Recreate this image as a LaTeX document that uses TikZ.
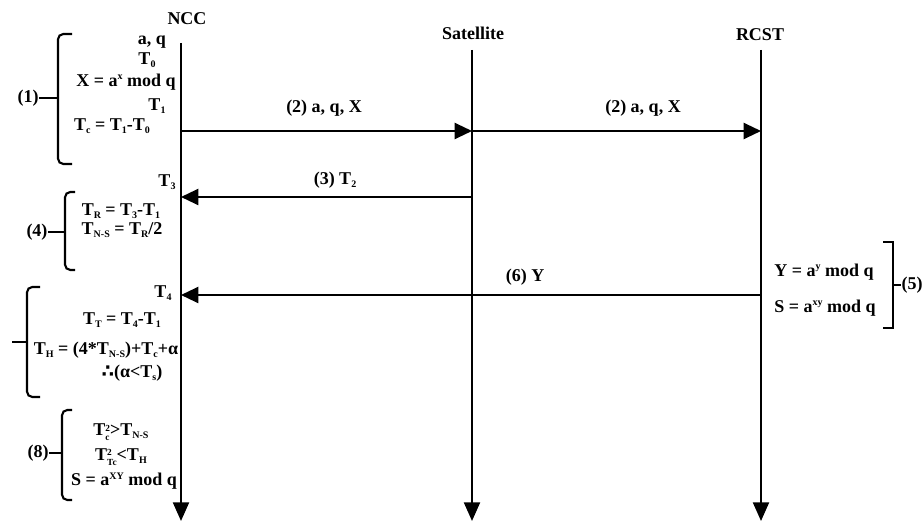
\documentclass[tikz,border=0pt]{standalone}
\usepackage{fontspec}
\setmainfont{Liberation Serif}
\newfontfamily\symfont{DejaVu Sans}
\usetikzlibrary{arrows.meta}
\newcommand\sbs[1]{\raisebox{-0.35ex}{\fontsize{7.5}{7.5}\selectfont #1}}
\newcommand\sps[1]{\raisebox{0.8ex}{\fontsize{7.5}{7.5}\selectfont #1}}
\newcommand\subsup[2]{\raisebox{-0.6ex}{\fontsize{7}{8.5}\selectfont\shortstack[l]{#1\\#2}}}
\begin{document}
\begin{tikzpicture}[x=0.75pt,y=-0.75pt,
  txt/.style={inner sep=0pt, font=\fontsize{13.5}{15}\selectfont\bfseries},
  life/.style={line width=1.6pt, -{Triangle[length=14pt,width=12pt]}},
  msg/.style={line width=1.6pt, -{Triangle[length=13pt,width=12pt]}},
  brace/.style={line width=1.6pt, rounded corners=4pt},
  tick/.style={line width=1.6pt}]
\useasboundingbox (0,0) rectangle (924,523);
% lifelines
\node[txt] (ncc) at (187,19) {NCC};
\node[txt] (sat) at (473,33) {Satellite};
\node[txt] (rcst) at (760,35) {RCST};
\coordinate (nccT) at (181,43); \coordinate (nccB) at (181,521);
\coordinate (satT) at (472,50); \coordinate (satB) at (472,521);
\coordinate (rcT) at (761,50);  \coordinate (rcB) at (761,521);
\draw[life] (nccT) -- (nccB);
\draw[life] (satT) -- (satB);
\draw[life] (rcT) -- (rcB);
% messages
\coordinate (n2) at (181,131); \coordinate (s2) at (472,131); \coordinate (r2) at (761,131);
\draw[msg] (n2) -- (s2);
\draw[msg] (s2) -- (r2);
\node[txt] (m2a) at (324,108) {(2) a, q, X};
\node[txt] (m2b) at (643,108) {(2) a, q, X};
\coordinate (s3) at (472,197); \coordinate (n3) at (181,197);
\draw[msg] (s3) -- (n3);
\node[txt] (m3) at (335,180) {(3) T\sbs{2}};
\coordinate (r6) at (761,295); \coordinate (n6) at (181,295);
\draw[msg] (r6) -- (n6);
\node[txt] (m6) at (525,277) {(6) Y};
% block (1)
\node[txt] (aq) at (152,42) {a, q};
\node[txt] (t0) at (147,60) {T\sbs{0}};
\node[txt] (xeq) at (126,82) {X = a\sps{x} mod q};
\node[txt] (t1) at (157,106) {T\sbs{1}};
\node[txt] (tc) at (112,126) {T\sbs{c} = T\sbs{1}-T\sbs{0}};
\draw[brace] (72,34) -- (58,34) -- (58,164) -- (72,164);
\node[txt] (l1) at (28,98) {(1)};
\coordinate (b1) at (58,98);
\draw[tick] (l1.east) -- (b1);
% block (4)
\node[txt] (t3) at (167,182) {T\sbs{3}};
\node[txt] (tr) at (121,211) {T\sbs{R} = T\sbs{3}-T\sbs{1}};
\node[txt] (tns) at (122,230) {T\sbs{N-S} = T\sbs{R}/2};
\draw[brace] (75,192) -- (65,192) -- (65,270) -- (75,270);
\node[txt] (l4) at (37,232) {(4)};
\coordinate (b4) at (65,232);
\draw[tick] (l4.east) -- (b4);
% block (7)
\node[txt] (t4) at (163,293) {T\sbs{4}};
\node[txt] (tt) at (122,320) {T\sbs{T} = T\sbs{4}-T\sbs{1}};
\node[txt] (th) at (106,350) {T\sbs{H} = (4*T\sbs{N-S})+T\sbs{c}+α};
\node[txt] (al) at (132,373) {{\symfont ∴}(α<T\sbs{s})};
\draw[brace] (40,287) -- (27,287) -- (27,397) -- (40,397);
\coordinate (l7) at (12,342);
\coordinate (b7) at (27,342);
\draw[tick] (l7) -- (b7);
% block (8)
\node[txt] (c1) at (121,432) {T\subsup{2}{c}>T\sbs{N-S}};
\node[txt] (c2) at (121,457) {T\subsup{2}{Tc}<T\sbs{H}};
\node[txt] (sk) at (124,481) {S = a\sps{XY} mod q};
\draw[brace] (72,410) -- (62,410) -- (62,500) -- (72,500);
\node[txt] (l8) at (38,453) {(8)};
\coordinate (b8) at (62,453);
\draw[tick] (l8.east) -- (b8);
% block (5)
\node[txt] (ya) at (824,272) {Y = a\sps{y} mod q};
\node[txt] (sa) at (825,308) {S = a\sps{xy} mod q};
\draw[tick] (883,242) -- (893,242) -- (893,328) -- (883,328);
\coordinate (b5) at (893,285);
\node[txt] (l5) at (912,285) {(5)};
\draw[tick] (b5) -- (l5.west);
\end{tikzpicture}
\end{document}
